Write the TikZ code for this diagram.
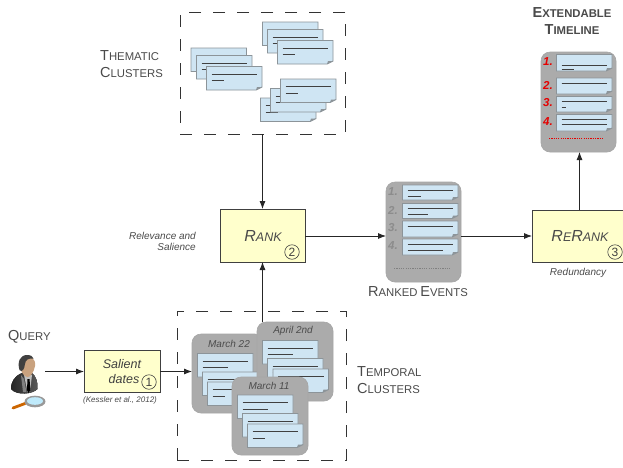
\documentclass[tikz,border=0pt]{standalone}
\usepackage{fontspec}
\setmainfont{Liberation Sans}
\usetikzlibrary{arrows.meta}
\definecolor{docblue}{HTML}{CFE5F3}
\definecolor{docedge}{HTML}{8C9499}
\definecolor{panelgray}{HTML}{ABABAB}
\definecolor{paleyellow}{HTML}{FFFFCC}
\definecolor{labelgray}{HTML}{4A4A4A}
\definecolor{skintone}{HTML}{C9A27F}
\tikzset{
  flow/.style={draw=black!85,line width=0.8pt,-{Latex[length=8pt,width=6pt]}},
  clusterbox/.style={draw=black!80,line width=0.8pt,dash pattern=on 12pt off 12pt,anchor=north west,inner sep=0pt,outer sep=0pt},
  panel/.style={draw=black!35,fill=panelgray,line width=0.6pt,rounded corners=9pt,anchor=north west,inner sep=0pt,outer sep=0pt},
  stepbox/.style={draw=black!75,fill=paleyellow,line width=0.9pt,anchor=north west,inner sep=0pt,outer sep=0pt},
  caption/.style={text=labelgray,inner sep=0pt,align=center},
  note/.style={text=labelgray,inner sep=0pt,font=\fontsize{10}{12}\selectfont\itshape},
  datelabel/.style={text=black!70,inner sep=0pt,font=\fontsize{10}{12}\selectfont\itshape},
  circnum/.style={draw=black!75,circle,line width=0.6pt,minimum size=14.5pt,inner sep=0pt,text=black!75,font=\fontsize{12}{12}\selectfont},
  ranknum/.style={inner sep=0pt,font=\fontsize{11.5}{12}\selectfont\bfseries\itshape},
  docframe/.style={draw=docedge,fill=docblue,line width=0.9pt},
  docline/.style={draw=black!75,line width=1pt},
}
% x y width height line1-offset line2-offset line2-length
\newcommand{\docbox}[7]{%
  \begin{scope}[shift={(#1,#2)}]
    \path[docframe] (0,0) -- (#3,0) -- (#3,#4-3) -- (#3-6,#4) -- (0,#4) -- cycle;
    \fill[docedge] (#3-6,#4) -- (#3-5,#4-3) -- (#3,#4-3) -- cycle;
    \draw[docline] (5,#5) -- (#3-5,#5);
    \draw[docline] (5,#6) -- (5+#7,#6);
  \end{scope}}
\newcommand{\bigdoc}[3]{\docbox{#1}{#2}{55.5}{23.5}{7.5}{14}{#3}}
\newcommand{\rankdoc}[4]{\docbox{#1}{#2}{55.5}{#3}{5}{11}{#4}}
\newcommand{\sct}[3][14.5]{{\fontsize{#1}{#1}\selectfont #2\fontsize{\fpeval{#1*0.78}}{#1}\selectfont #3}}
\begin{document}
\begin{tikzpicture}[x=1pt,y=-1pt]
\useasboundingbox (0,0) rectangle (623,467);
\fill[white] (0,0) rectangle (623,467);

% thematic clusters
\node[clusterbox,minimum width=165.5pt,minimum height=122pt] (thematic) at (180,12) {};
\bigdoc{191}{48}{40}
\bigdoc{196.5}{55.5}{14}
\bigdoc{206.5}{66.5}{12}
\bigdoc{262.5}{22}{30}
\bigdoc{267.5}{29.5}{40}
\bigdoc{277.5}{40.5}{12}
\bigdoc{260.5}{98}{12}
\bigdoc{270.5}{88.5}{6}
\bigdoc{280.5}{79}{12}
\node[caption,align=left,anchor=west] (thematiclabel) at (100,56) {\sct{T}{HEMATIC}};
\node[caption,align=left,anchor=west] (thematiclabelb) at (100,72.5) {\sct{C}{LUSTERS}};

% temporal clusters
\node[clusterbox,minimum width=169pt,minimum height=149pt] (temporal) at (177,311) {};
\node[panel,minimum width=72pt,minimum height=79pt] (march22) at (192,334) {};
\node[datelabel] (march22label) at (229,344) {March 22};
\bigdoc{197.5}{353.5}{25}
\bigdoc{202.5}{372}{30}
\bigdoc{207.5}{382}{12}
\node[panel,minimum width=76pt,minimum height=79pt] (april) at (257,322) {};
\node[datelabel] (aprillabel) at (293,331) {April 2nd};
\bigdoc{262.5}{340.5}{25}
\bigdoc{267.5}{358.5}{30}
\bigdoc{273}{369}{30}
\node[panel,minimum width=76pt,minimum height=78pt] (march11) at (232,377) {};
\node[datelabel] (march11label) at (269,385.5) {March 11};
\bigdoc{237.5}{395}{25}
\bigdoc{242.5}{413.5}{30}
\bigdoc{247.5}{424}{12}
\node[caption,align=left,anchor=west] (temporallabel) at (357,371.5) {\sct{T}{EMPORAL}};
\node[caption,align=left,anchor=west] (temporallabelb) at (357,388) {\sct{C}{LUSTERS}};

% query
\node[caption,anchor=west] (query) at (8,336.5) {\sct{Q}{UERY}};
\node[inner sep=0pt,minimum width=34pt,minimum height=40pt] (person) at (28,373) {};
% body
\fill[left color=black!85,right color=black!65] (11,389) .. controls (11,381) and (15,376) .. (22,373) -- (32,373) .. controls (36,376) and (38,382) .. (37.5,389) .. controls (33,394) and (17,396) .. (11,389) -- cycle;
\fill[white!75!black] (24,375) -- (32,375) -- (30,392) -- (27.5,392) -- cycle;
\fill[black] (27.5,379) -- (29.5,379) -- (30.5,390) -- (28.5,393) -- (27,390) -- cycle;
\fill[black!50] (21,375) -- (24,379) -- (26.5,392) -- (23,392) -- cycle;
% head
\fill[skintone] (23,358) .. controls (31,354) and (36,359) .. (35,366) .. controls (34,372) and (30,378) .. (27,377) .. controls (23,376) and (20,370) .. (20,365) -- cycle;
\fill[black!75] (19.5,370) .. controls (17,362) and (20,355) .. (27,355) .. controls (31,355) and (33,356.5) .. (33.5,358.5) .. controls (28,358) and (25.5,360) .. (25,364) .. controls (24.5,369) and (22,373) .. (19.5,370) -- cycle;
% magnifier
\draw[orange!80!black,line width=2.8pt,line cap=round] (13,408) -- (25,403.5);
\fill[black!40] (35,401.5) ellipse [x radius=10.5pt,y radius=5.8pt];
\fill[cyan!25!white] (35,401) ellipse [x radius=8pt,y radius=3.8pt];

% salient dates
\node[stepbox,minimum width=76pt,minimum height=42pt] (salient) at (84,350.5) {};
\node[inner sep=0pt,text=black!75,font=\fontsize{12.5}{12}\selectfont\itshape] (salienta) at (122,364) {Salient};
\node[inner sep=0pt,text=black!75,font=\fontsize{12.5}{12}\selectfont\itshape] (salientb) at (124,379) {dates};
\node[circnum] (one) at (149,382) {1};
\node[note,font=\fontsize{8}{10}\selectfont\itshape] (kessler) at (120,400.5) {(Kessler et al., 2012)};

% rank
\node[stepbox,minimum width=85pt,minimum height=53pt] (rank) at (220,209) {};
\node[inner sep=0pt,text=labelgray,font=\itshape] (ranktext) at (263,236) {\sct[16]{R}{ANK}};
\node[circnum] (two) at (292,252) {2};
\node[note,anchor=east] (relevance) at (196,235.5) {Relevance and};
\node[note,anchor=east] (salience) at (196,247) {Salience};

% ranked events
\node[panel,minimum width=75pt,minimum height=100pt] (ranked) at (386,182) {};
\rankdoc{402.5}{185}{15}{13}
\rankdoc{402.5}{203.5}{15}{20}
\docbox{402.5}{221}{55.5}{16}{5}{5}{45}
\rankdoc{402.5}{239}{16}{35}
\node[ranknum,text=black!45] (r1) at (393,192) {1.};
\node[ranknum,text=black!45] (r2) at (393,210) {2.};
\node[ranknum,text=black!45] (r3) at (393,228) {3.};
\node[ranknum,text=black!45] (r4) at (393,246) {4.};
\draw[black!50,line width=0.9pt,dash pattern=on 1.2pt off 1.1pt] (394,268) -- (450,268);
\node[caption] (rankedlabel) at (418,292) {\sct{R}{ANKED} \sct{E}{VENTS}};

% rerank
\node[stepbox,minimum width=93pt,minimum height=52pt] (rerank) at (532,210) {};
\node[inner sep=0pt,text=labelgray,font=\itshape] (reranktext) at (580,236) {\sct[16]{R}{E}\sct[16]{R}{ANK}};
\node[circnum] (three) at (615,252) {3};
\node[note] (redundancy) at (578,273) {Redundancy};

% timeline
\node[panel,minimum width=75pt,minimum height=100pt] (timeline) at (541,52) {};
\docbox{556.5}{54.5}{55.5}{16.5}{11}{15}{12}
\docbox{556.5}{78}{55.5}{16}{5}{5}{45}
\docbox{556.5}{96.5}{55.5}{15.5}{5}{10.5}{4}
\docbox{556.5}{114.5}{55.5}{16.5}{5}{10}{45}
\node[ranknum,text=red!90!black] (t1) at (548,62) {1.};
\node[ranknum,text=red!90!black] (t2) at (548,85) {2.};
\node[ranknum,text=red!90!black] (t3) at (548,103) {3.};
\node[ranknum,text=red!90!black] (t4) at (548,122) {4.};
\draw[red!90!black,line width=0.9pt,dash pattern=on 1.2pt off 1.1pt] (549,138) -- (604,138);
\node[caption,font=\bfseries] (extendable) at (572,13) {\sct{E}{XTENDABLE}};
\node[caption,font=\bfseries] (timelinelabel) at (572,30) {\sct{T}{IMELINE}};

% connectors
\draw[flow] (person.east |- salient.west) -- (salient.west);
\draw[flow] (salient.east) -- (march22.west |- salient.east);
\draw[flow] (thematic.south -| rank.north) -- (rank.north);
\draw[flow] (april.north -| rank.south) -- (rank.south);
\draw[flow] (rank.east |- 0,236) -- (ranked.west |- 0,236);
\draw[flow] (ranked.east |- 0,236) -- (rerank.west |- 0,236);
\draw[flow] ([xshift=1pt]rerank.north -| timeline.south) -- ([xshift=1pt]timeline.south);
\end{tikzpicture}
\end{document}
